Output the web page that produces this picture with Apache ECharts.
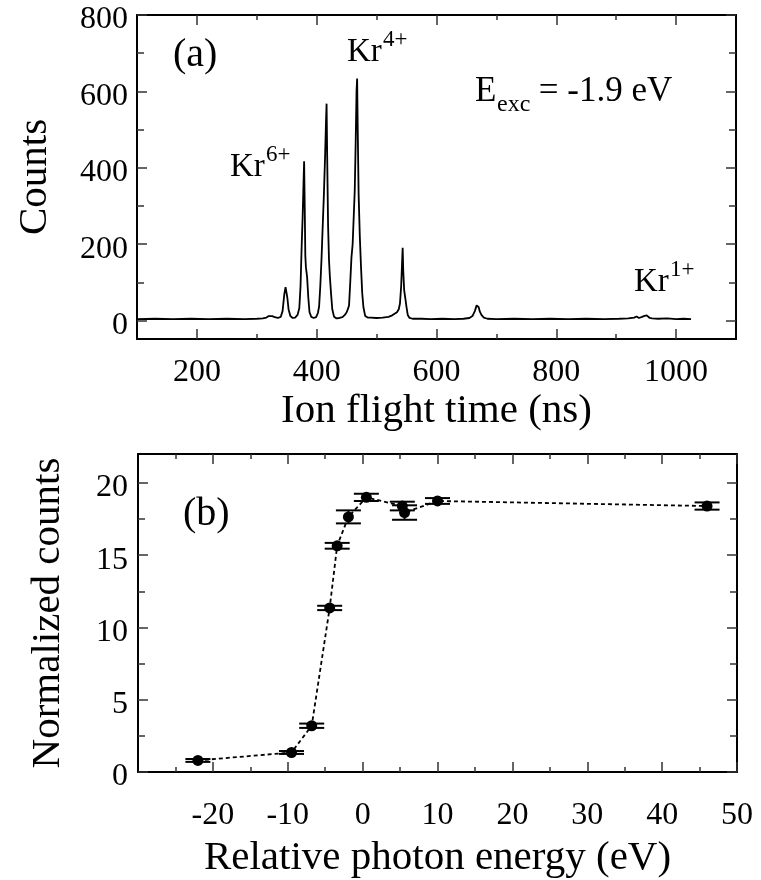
<!DOCTYPE html>
<html>
<head>
<meta charset="utf-8">
<script src="https://cdn.jsdelivr.net/npm/echarts@6/dist/echarts.min.js"></script>
<style>
html,body{margin:0;padding:0;background:#fff;}
#chart{width:761px;height:880px;}
</style>
</head>
<body>
<div id="chart"></div>
<script>
// ---------- Panel (a): ion time-of-flight spectrum ----------
const spectrumTime = [100,130,160,190,220,250,280,300,310,316,320,323,326,330,335,340,343,346,348,349.5,351,353,356,360,364,368,371,373,375,376.5,378,379,380,381,382,384,386,388,391,395,399,402,404,406,408,410,412,414,415.5,416.5,417.5,419,420.5,422,424,426,429,433,438,443,447,450,452,454,456,458,460,462,463.5,465,466.5,467.5,468.5,470,472,474,476,478,481,485,490,500,510,520,526,530,534,537,539,541,542.5,543.5,544.5,546,548,550,552,555,560,575,590,610,630,645,655,660,664,667,669,670.5,672,675,679,685,700,730,760,790,820,850,880,905,920,930,934,938,942,946,949,951,953,956,960,970,985,1000,1012,1025];
const spectrumCounts = [4,5,4,5,4,5,4,5,6,8,12,15,12,9,7,10,25,70,88,91,60,30,12,7,8,15,33,90,200,270,360,417,300,170,140,114,60,22,10,7,9,20,37,90,160,246,330,430,520,568,430,250,160,115,70,30,10,6,7,9,15,22,30,40,100,165,200,280,340,460,600,634,500,330,220,140,72,35,12,8,8,7,8,10,14,18,22,30,45,90,150,191,130,80,58,35,15,7,5,5,4,5,4,5,7,12,25,40,44,35,25,15,8,5,4,5,4,5,4,5,4,5,6,8,11,7,9,12,17,14,10,7,6,5,6,4,5,4];
const xMajorA = [200,400,600,800,1000];
const xMinorA = [300,500,700,900];
const yMajorA = [0,200,400,600,800];
const yMinorA = [100,300,500,700];

// ---------- Panel (b): normalized counts vs relative photon energy ----------
const energy     = [-22, -9.5, -6.8, -4.4, -3.4, -1.9, 0.5, 5.3, 5.6, 10, 46];
const normCounts = [0.8, 1.35, 3.2, 11.35, 15.65, 17.65, 19.0, 18.4, 17.95, 18.75, 18.4];
const normErr    = [0.1, 0.1, 0.15, 0.15, 0.2, 0.45, 0.25, 0.3, 0.5, 0.2, 0.25];
const xMajorB = [-20,-10,0,10,20,30,40,50];
const xMinorB = [-25,-15,-5,5,15,25,35,45];
const yMajorB = [0,5,10,15,20];
const yMinorB = [2.5,7.5,12.5,17.5];

const FONT = 'Liberation Serif';
const chart = echarts.init(document.getElementById('chart'));

function xAx(grid, pos, min, max, ticks, len, labels, showLine, name, nameGap, margin) {
  return {
    type:'value', gridIndex:grid, position:pos, min:min, max:max,
    axisLine:{show:showLine, onZero:false, lineStyle:{color:'#000', width:2}},
    axisTick:{show:true, inside:true, length:len, customValues:ticks, lineStyle:{color:'#333', width:1.5}},
    axisLabel: labels ? {show:true, customValues:labels, margin:margin, fontFamily:FONT, fontSize:32, color:'#000',
                         formatter:function(v){ return String(v); }} : {show:false},
    splitLine:{show:false},
    name: name || '', nameLocation:'middle', nameGap: nameGap || 0,
    nameTextStyle:{fontFamily:FONT, fontSize:41, color:'#000'}
  };
}
function yAx(grid, pos, min, max, ticks, len, labels, showLine, name, nameGap, margin) {
  const a = xAx(grid, pos, min, max, ticks, len, labels, showLine, name, nameGap, margin);
  if (labels) {
    a.axisLabel.formatter = function(v){ return '{d|' + String(v) + '}'; };
    a.axisLabel.rich = {d:{fontFamily:FONT, fontSize:32, color:'#000', padding:[10,0,0,0]}};
  }
  return a;
}

const option = {
  animation:false,
  backgroundColor:'#fff',
  grid:[
    {left:137, top:15, width:599, height:324, show:false},
    {left:138, top:454, width:599, height:324, show:false}
  ],
  xAxis:[
    xAx(0,'bottom',100,1100,xMajorA,10,xMajorA,true,'Ion flight time (ns)',52,18),
    xAx(0,'bottom',100,1100,xMinorA,5,null,false),
    xAx(0,'top',100,1100,xMajorA,10,null,true),
    xAx(0,'top',100,1100,xMinorA,5,null,false),
    xAx(1,'bottom',-30,50,xMajorB,10,xMajorB,true,'Relative photon energy (eV)',66,28),
    xAx(1,'bottom',-30,50,xMinorB,5,null,false),
    xAx(1,'top',-30,50,xMajorB,10,null,true),
    xAx(1,'top',-30,50,xMinorB,5,null,false)
  ],
  yAxis:[
    yAx(0,'left',-48,800,yMajorA,10,yMajorA,true,'Counts',81,9),
    yAx(0,'left',-48,800,yMinorA,7,null,false),
    yAx(0,'right',-48,800,yMajorA,10,null,true),
    yAx(0,'right',-48,800,yMinorA,7,null,false),
    yAx(1,'left',0,22,yMajorB,10,yMajorB,true,'Normalized counts',69,10),
    yAx(1,'left',0,22,yMinorB,7,null,false),
    yAx(1,'right',0,22,yMajorB,10,null,true),
    yAx(1,'right',0,22,yMinorB,7,null,false)
  ],
  series:[
    {
      type:'line', xAxisIndex:0, yAxisIndex:0,
      data: spectrumTime.map((t,i)=>[t, spectrumCounts[i]]),
      showSymbol:false, symbol:'none',
      lineStyle:{color:'#000', width:1.8},
      silent:true
    },
    {
      type:'custom', xAxisIndex:4, yAxisIndex:4,
      data: energy.map((e,i)=>[e, normCounts[i], normErr[i]]),
      renderItem:function(params, api){
        const x = api.value(0), y = api.value(1), er = api.value(2);
        const hi = api.coord([x, y+er]);
        const lo = api.coord([x, y-er]);
        const hw = 12.5;
        const st = {stroke:'#000', lineWidth:2};
        return {type:'group', children:[
          {type:'line', shape:{x1:hi[0], y1:hi[1], x2:lo[0], y2:lo[1]}, style:st},
          {type:'line', shape:{x1:hi[0]-hw, y1:hi[1], x2:hi[0]+hw, y2:hi[1]}, style:st},
          {type:'line', shape:{x1:lo[0]-hw, y1:lo[1], x2:lo[0]+hw, y2:lo[1]}, style:st}
        ]};
      },
      silent:true, z:3
    },
    {
      type:'line', xAxisIndex:4, yAxisIndex:4,
      data: energy.map((e,i)=>[e, normCounts[i]]),
      symbol:'circle', symbolSize:11, showSymbol:true,
      itemStyle:{color:'#000'},
      lineStyle:{color:'#000', width:1.8, type:[4,3]},
      silent:true, z:4
    }
  ],
  graphic:[
    {type:'text', x:173, y:55, style:{text:'(a)', fontFamily:FONT, fontSize:40, fill:'#000', verticalAlign:'middle'}},
    {type:'text', x:347, y:52, style:{text:'Kr', fontFamily:FONT, fontSize:33, fill:'#000', verticalAlign:'middle'}},
    {type:'text', x:383, y:40, style:{text:'4+', fontFamily:FONT, fontSize:23, fill:'#000', verticalAlign:'middle'}},
    {type:'text', x:230, y:167, style:{text:'Kr', fontFamily:FONT, fontSize:33, fill:'#000', verticalAlign:'middle'}},
    {type:'text', x:266, y:155, style:{text:'6+', fontFamily:FONT, fontSize:23, fill:'#000', verticalAlign:'middle'}},
    {type:'text', x:634, y:282, style:{text:'Kr', fontFamily:FONT, fontSize:33, fill:'#000', verticalAlign:'middle'}},
    {type:'text', x:670, y:270, style:{text:'1+', fontFamily:FONT, fontSize:23, fill:'#000', verticalAlign:'middle'}},
    {type:'text', x:475, y:92, style:{text:'E', fontFamily:FONT, fontSize:35, fill:'#000', verticalAlign:'middle'}},
    {type:'text', x:497, y:105, style:{text:'exc', fontFamily:FONT, fontSize:24, fill:'#000', verticalAlign:'middle'}},
    {type:'text', x:530, y:92, style:{text:' = -1.9 eV', fontFamily:FONT, fontSize:35, fill:'#000', verticalAlign:'middle'}},
    {type:'text', x:183, y:514, style:{text:'(b)', fontFamily:FONT, fontSize:40, fill:'#000', verticalAlign:'middle'}}
  ]
};
chart.setOption(option);
</script>
</body>
</html>
